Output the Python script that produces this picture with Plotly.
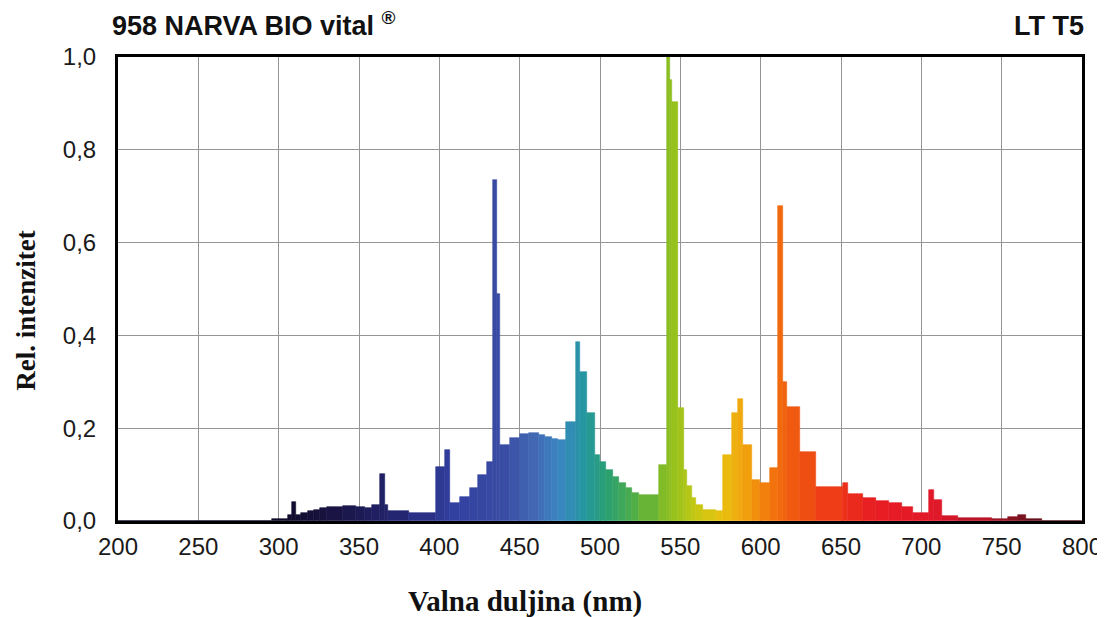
import plotly.graph_objects as go

# Spectrum as stepped bins: left edge of each bin (nm) and relative intensity
bin_left = [200, 296, 306, 308, 311, 314, 318, 322, 326, 330, 340, 348, 354, 358, 363, 366, 368, 381,
            398, 403.5, 406.5, 413, 419, 424, 429.5, 433.5, 436, 437.5, 444, 450, 456, 462, 466, 470, 474,
            479, 485, 487.5, 492, 497, 500, 504, 508, 512, 516, 520, 524, 537, 541.5, 543.5, 544.5,
            548.5, 552, 554, 557, 560, 564, 572, 576.5, 582, 586, 589.3, 594.4, 599.6, 605.8, 611, 614,
            616.5, 624.5, 634.5, 651, 654.5, 664, 672, 680, 688, 695, 705, 708, 713, 723, 744, 754, 760,
            765, 775]
bin_right_end = 800
intensity = [0.0, 0.004, 0.012, 0.042, 0.013, 0.017, 0.021, 0.024, 0.028, 0.031, 0.032, 0.030, 0.027,
             0.035, 0.101, 0.035, 0.022, 0.017,
             0.117, 0.153, 0.039, 0.052, 0.071, 0.099, 0.128, 0.735, 0.49, 0.164, 0.179, 0.187, 0.19,
             0.185, 0.181, 0.177, 0.174,
             0.214, 0.386, 0.322, 0.232, 0.142, 0.128, 0.11, 0.095, 0.082, 0.071, 0.06, 0.056, 0.121,
             1.0, 0.95, 0.904,
             0.243, 0.11, 0.075, 0.05, 0.035, 0.024, 0.022, 0.142, 0.232, 0.262, 0.164, 0.088, 0.082,
             0.114, 0.678, 0.30,
             0.246, 0.149, 0.074, 0.081, 0.058, 0.05, 0.043, 0.039, 0.031, 0.017, 0.067, 0.045, 0.01,
             0.007, 0.004, 0.008, 0.013,
             0.004, 0.0]

x_ticks = [200, 250, 300, 350, 400, 450, 500, 550, 600, 650, 700, 750, 800]
y_ticks = [0.0, 0.2, 0.4, 0.6, 0.8, 1.0]
y_tick_text = ["0,0", "0,2", "0,4", "0,6", "0,8", "1,0"]

title_left = "958 NARVA BIO vital <sup>®</sup>"
title_right = "LT T5"
x_title = "Valna duljina (nm)"
y_title = "Rel. intenzitet"

# wavelength -> colour stops (style)
stops = [(300, "#100a28"), (340, "#1a1648"), (380, "#262878"), (410, "#3240a0"), (440, "#3a4ca4"),
         (460, "#426ab4"), (475, "#3a86c2"), (490, "#2696a2"), (505, "#2aa070"), (525, "#58b040"),
         (545, "#92c01e"), (560, "#c4c812"), (575, "#e8c210"), (590, "#f2a40e"), (605, "#f27a0c"),
         (620, "#f05a10"), (645, "#ee3a18"), (670, "#e81e22"), (710, "#e0182a"), (740, "#b01528"),
         (780, "#501018")]

def hex2rgb(h):
    h = h.lstrip("#")
    return tuple(int(h[i:i + 2], 16) for i in (0, 2, 4))

def wl_color(w):
    if w <= stops[0][0]:
        r, g, b = hex2rgb(stops[0][1])
        return f"rgb({r},{g},{b})"
    for (w0, c0), (w1, c1) in zip(stops[:-1], stops[1:]):
        if w0 <= w <= w1:
            t = (w - w0) / (w1 - w0)
            a, b_ = hex2rgb(c0), hex2rgb(c1)
            r, g, b = [round(a[i] + (b_[i] - a[i]) * t) for i in range(3)]
            return f"rgb({r},{g},{b})"
    r, g, b = hex2rgb(stops[-1][1])
    return f"rgb({r},{g},{b})"

edges = bin_left + [bin_right_end]
centers = [(edges[i] + edges[i + 1]) / 2 for i in range(len(bin_left))]
widths = [edges[i + 1] - edges[i] for i in range(len(bin_left))]
colors = [wl_color(c) for c in centers]

fig = go.Figure()
fig.add_trace(go.Bar(x=centers, y=intensity, width=widths,
                     marker=dict(color=colors, line=dict(color=colors, width=0.6)),
                     hoverinfo="x+y"))

# page body has an 8px default margin: figure sized/offset to compensate
fig.update_layout(
    width=1097, height=609,
    margin=dict(l=110, r=23, t=49, b=96),
    paper_bgcolor="white", plot_bgcolor="white",
    bargap=0, showlegend=False,
    font=dict(family="Liberation Sans, Arial", color="#1a1a1a"),
)
fig.update_xaxes(range=[200, 800], tickvals=x_ticks, ticktext=[str(v) for v in x_ticks],
                 showgrid=True, gridcolor="#959595", gridwidth=1,
                 showline=True, linecolor="black", linewidth=3, mirror=True,
                 ticks="outside", ticklen=2, tickcolor="rgba(0,0,0,0)",
                 tickfont=dict(size=24, family="Liberation Sans, Arial", color="#1a1a1a"),
                 zeroline=False, automargin=False)
fig.update_yaxes(range=[0, 1.0], tickvals=y_ticks, ticktext=y_tick_text,
                 showgrid=True, gridcolor="#959595", gridwidth=1,
                 showline=True, linecolor="black", linewidth=3, mirror=True,
                 ticks="outside", ticklen=14, tickcolor="rgba(0,0,0,0)",
                 tickfont=dict(size=24, family="Liberation Sans, Arial", color="#1a1a1a"),
                 zeroline=False, automargin=False)

fig.add_annotation(text="<b>" + title_left + "</b>", xref="paper", yref="paper", x=0.0, y=1.0,
                   xshift=-8, yshift=14,
                   xanchor="left", yanchor="bottom", showarrow=False,
                   font=dict(size=27, family="Liberation Sans, Arial", color="#111"))
fig.add_annotation(text="<b>" + title_right + "</b>", xref="paper", yref="paper", x=1.0, y=1.0,
                   xshift=4, yshift=14,
                   xanchor="right", yanchor="bottom", showarrow=False,
                   font=dict(size=27, family="Liberation Sans, Arial", color="#111"))
fig.add_annotation(text="<b>" + x_title + "</b>", xref="paper", yref="paper", x=0.422, y=0, yshift=-80,
                   xanchor="center", yanchor="middle", showarrow=False,
                   font=dict(size=29, family="Liberation Serif, Times New Roman", color="#111"))
fig.add_annotation(text="<b>" + y_title + "</b>", xref="paper", yref="paper", x=0, xshift=-92, y=0.453,
                   xanchor="center", yanchor="middle", showarrow=False, textangle=-90,
                   font=dict(size=27, family="Liberation Serif, Times New Roman", color="#111"))

fig.write_html("out.html")
